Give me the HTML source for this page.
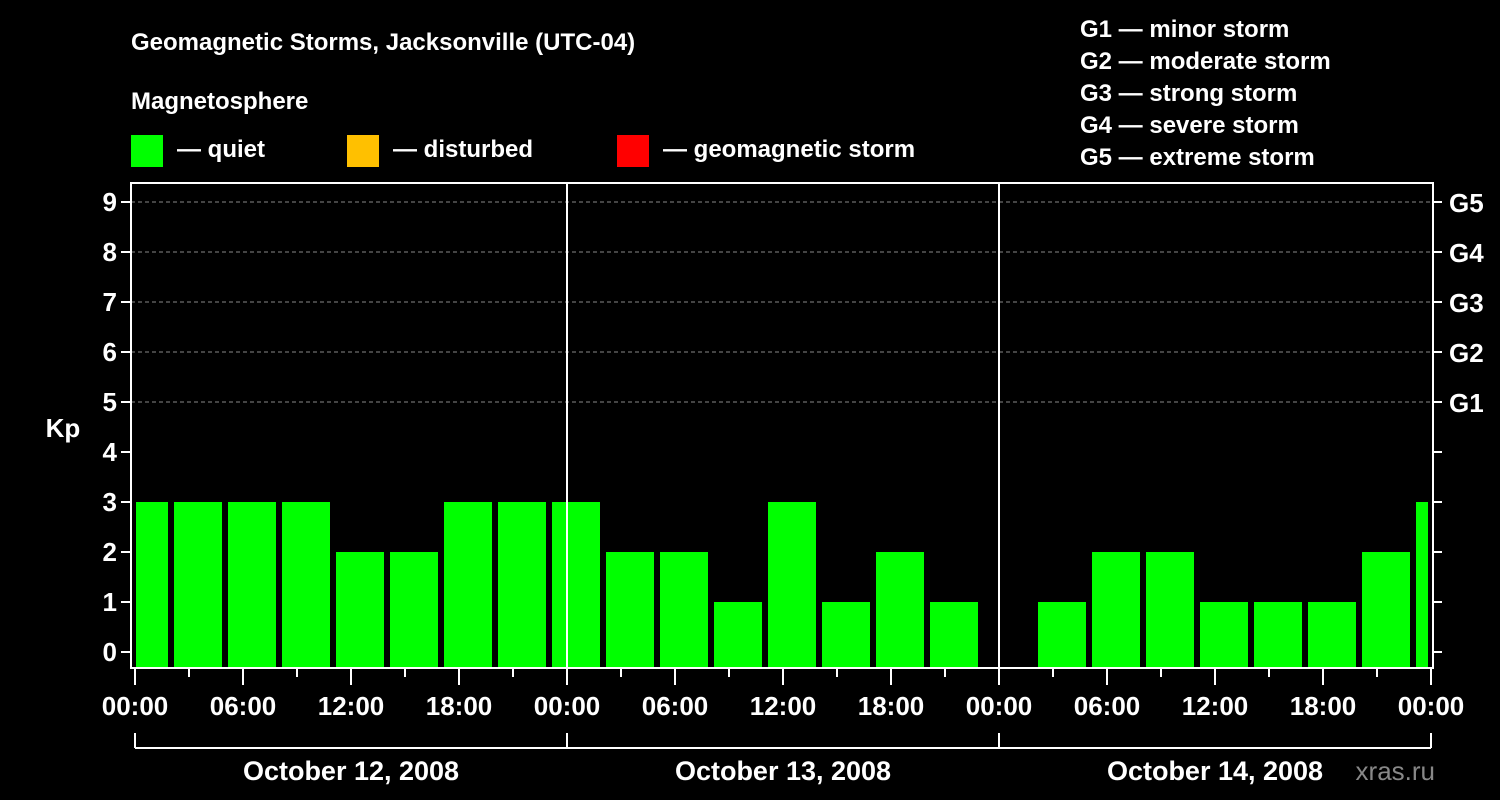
<!DOCTYPE html>
<html><head><meta charset="utf-8"><style>
html,body{margin:0;padding:0;background:#000;}
svg{display:block;font-family:"Liberation Sans",Arial,sans-serif;font-weight:bold;}
</style></head><body>
<svg id="c" width="1500" height="800" xmlns="http://www.w3.org/2000/svg">
<rect width="1500" height="800" fill="#000"/>
<text x="131" y="50" fill="#fff" font-size="24">Geomagnetic Storms, Jacksonville (UTC-04)</text>
<text x="131" y="109" fill="#fff" font-size="24">Magnetosphere</text>
<g><rect x="131" y="135" width="32" height="32" fill="#00ff00"/><text x="177" y="157" fill="#fff" font-size="24">— quiet</text></g>
<g><rect x="347" y="135" width="32" height="32" fill="#ffc000"/><text x="393" y="157" fill="#fff" font-size="24">— disturbed</text></g>
<g><rect x="617" y="135" width="32" height="32" fill="#ff0000"/><text x="663" y="157" fill="#fff" font-size="24">— geomagnetic storm</text></g>
<g fill="#fff" font-size="24">
<text x="1080" y="37">G1 — minor storm</text>
<text x="1080" y="69">G2 — moderate storm</text>
<text x="1080" y="101">G3 — strong storm</text>
<text x="1080" y="133">G4 — severe storm</text>
<text x="1080" y="165">G5 — extreme storm</text>
</g>
<text x="63" y="437" fill="#fff" font-size="26" text-anchor="middle">Kp</text>
<text x="1435" y="780" fill="#888" font-size="26" text-anchor="end" font-weight="normal">xras.ru</text>
<g id="grid"></g><g id="bars"></g><g id="axes"></g>
</svg>
<script>
const kpValues=[3,3,3,3,2,2,3,3,3,2,2,1,3,1,2,1,null,1,2,2,1,1,1,2,3];
const firstBinHour=-1;
const dayLabels=["October 12, 2008","October 13, 2008","October 14, 2008"];
const timeLabels=["00:00","06:00","12:00","18:00"];
const gLabels=["G1","G2","G3","G4","G5"];
const NS="http://www.w3.org/2000/svg";
const X0=135,HPX=18,L=131,R=1433,T=183,B=668;
const xs=h=>X0+h*HPX;
const ys=v=>652-v*50;
function mk(p,t,a){const e=document.createElementNS(NS,t);for(const k in a)e.setAttribute(k,a[k]);p.appendChild(e);return e;}
const grid=document.getElementById('grid'),bars=document.getElementById('bars'),axes=document.getElementById('axes');
for(let v=5;v<=9;v++){const l=mk(grid,'line',{x1:L,x2:R,y1:ys(v),y2:ys(v),stroke:'#888','stroke-dasharray':'4,3','stroke-width':1});

}
kpValues.forEach((v,i)=>{if(v==null)return;const s=xs((firstBinHour+i)*3+2);
let x1=Math.max(s+3,L+5),x2=Math.min(s+51,R-5);
const col=v>=5?'#ff0000':v>=4?'#ffc000':'#00ff00';
const r=mk(bars,'rect',{x:x1,y:ys(v),width:x2-x1,height:B-1-ys(v),fill:col});

});
// day separators
for(let d=1;d<3;d++){const l=mk(axes,'line',{x1:xs(d*24),x2:xs(d*24),y1:T,y2:B,stroke:'#fff','stroke-width':2});

}
const fr=mk(axes,'rect',{x:L,y:T,width:R-L,height:B-T,fill:'none',stroke:'#fff','stroke-width':2});


for(let v=0;v<=9;v++){const y=ys(v);
mk(axes,'line',{x1:L-10,x2:L,y1:y,y2:y,stroke:'#fff','stroke-width':2});
mk(axes,'line',{x1:R,x2:R+9,y1:y,y2:y,stroke:'#fff','stroke-width':2});
const t=mk(axes,'text',{x:L-14,y:y+9,fill:'#fff','font-size':26,'text-anchor':'end'});t.textContent=v;


if(v>=5){const g=mk(axes,'text',{x:R+16,y:y+10,fill:'#fff','font-size':26});g.textContent=gLabels[v-5];

}}
for(let h=0;h<=72;h+=3){const x=xs(h);const major=h%6===0;
mk(axes,'line',{x1:x,x2:x,y1:B,y2:B+(major?17:9),stroke:'#fff','stroke-width':2});
if(major){const t=mk(axes,'text',{x:x,y:B+47,fill:'#fff','font-size':26,'text-anchor':'middle'});t.textContent=timeLabels[(h%24)/6];

}}
mk(axes,'line',{x1:xs(0),x2:xs(72),y1:748,y2:748,stroke:'#fff','stroke-width':2});
for(let d=0;d<=3;d++)mk(axes,'line',{x1:xs(d*24),x2:xs(d*24),y1:733,y2:748,stroke:'#fff','stroke-width':2});
dayLabels.forEach((s,d)=>{const t=mk(axes,'text',{x:xs(d*24+12),y:780,fill:'#fff','font-size':27,'text-anchor':'middle'});t.textContent=s;

});
</script>
</body></html>
